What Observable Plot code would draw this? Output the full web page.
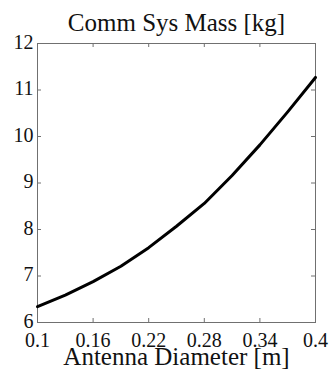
<!DOCTYPE html>
<html><head><meta charset="utf-8">
<script src="https://cdn.jsdelivr.net/npm/d3@7"></script>
<script src="https://cdn.jsdelivr.net/npm/@observablehq/plot@0.6"></script>
<style>html,body{margin:0;padding:0;background:#fff} svg{display:block}</style>
</head><body><div id="chart"></div>
<script>
const diameters = [0.10, 0.13, 0.16, 0.19, 0.22, 0.25, 0.28, 0.31, 0.34, 0.37, 0.40];
const massKg = [6.34, 6.59, 6.88, 7.21, 7.61, 8.07, 8.56, 9.16, 9.82, 10.53, 11.27];
const xTicks = [0.1, 0.16, 0.22, 0.28, 0.34, 0.4];
const xTickLabels = ["0.1", "0.16", "0.22", "0.28", "0.34", "0.4"];
const yTicks = [6, 7, 8, 9, 10, 11, 12];
const yTickLabels = ["6", "7", "8", "9", "10", "11", "12"];
const title = "Comm Sys Mass [kg]";
const xLabel = "Antenna Diameter [m]";

const W = 329, H = 372, mL = 37, mR = 14, mT = 43, mB = 50;
const fw = W - mL - mR, fh = H - mT - mB;
const data = diameters.map((d, i) => ({d, m: massKg[i]}));
const font = "'Liberation Serif', 'Times New Roman', serif";
const tickLen = 4;
const axisColor = "#707070";
const textColor = "#111";

const chart = Plot.plot({
  width: W, height: H,
  marginLeft: mL, marginRight: mR, marginTop: mT, marginBottom: mB,
  style: {fontFamily: font, background: "#fff", color: textColor},
  x: {domain: [0.1, 0.4], axis: null},
  y: {domain: [6, 12], axis: null},
  marks: [
    Plot.frame({stroke: axisColor, strokeWidth: 1}),
    Plot.tickX(xTicks, {x: d => d, stroke: axisColor, insetTop: fh - tickLen}),
    Plot.tickX(xTicks, {x: d => d, stroke: axisColor, insetBottom: fh - tickLen}),
    Plot.tickY(yTicks, {y: d => d, stroke: axisColor, insetRight: fw - tickLen}),
    Plot.tickY(yTicks, {y: d => d, stroke: axisColor, insetLeft: fw - tickLen}),
    Plot.line(data, {x: "d", y: "m", stroke: "#000", strokeWidth: 3, strokeLinejoin: "round"}),
    Plot.text(xTicks, {x: d => d, text: (d, i) => xTickLabels[i], frameAnchor: "bottom", dy: 24, fontSize: 20, fill: textColor}),
    Plot.text(yTicks, {y: d => d, text: (d, i) => yTickLabels[i], frameAnchor: "left", textAnchor: "end", dx: -4, dy: -1, fontSize: 20, fill: textColor}),
    Plot.text([title], {text: d => d, frameAnchor: "top", dy: -30, fontSize: 25, fill: textColor}),
    Plot.text([xLabel], {text: d => d, frameAnchor: "bottom", dy: 42, fontSize: 25, fill: textColor})
  ]
});
document.getElementById("chart").appendChild(chart);
</script>
</body></html>
